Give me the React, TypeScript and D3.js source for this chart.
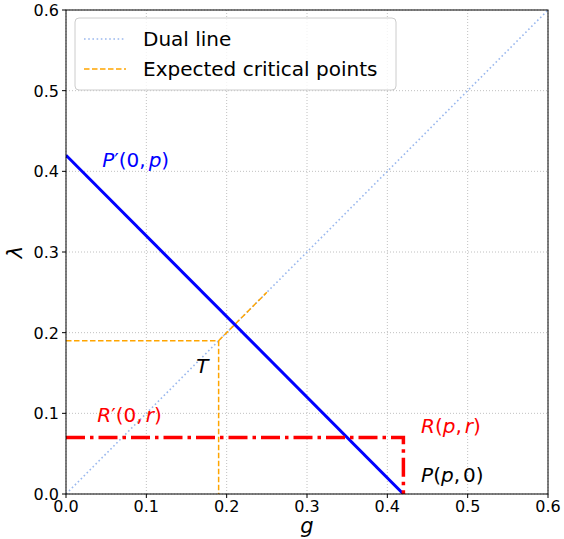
import React from "react";
import * as d3 from "d3";

// Axis ticks
const xTicks = [0, 0.1, 0.2, 0.3, 0.4, 0.5, 0.6];
const yTicks = [0, 0.1, 0.2, 0.3, 0.4, 0.5, 0.6];

// Model values
const p = 0.42;
const r = 0.07;
const t = 0.19;
const tEnd = 0.25;

// Series
const dualLine: [number, number][] = [[0, 0], [0.6, 0.6]];
const pLine: [number, number][] = [[0, p], [p, 0]];
const rLine: [number, number][] = [[0, r], [p, r], [p, 0]];
const tHoriz: [number, number][] = [[0, t], [t, t]];
const tVert: [number, number][] = [[t, t], [t, 0]];
const tDiag: [number, number][] = [[t, t], [tEnd, tEnd]];

const W = 564;
const H = 539;
const M = { left: 66, right: 548, top: 10, bottom: 494 };
const FONT = "DejaVu Sans, sans-serif";

export default function App() {
  const x = d3.scaleLinear().domain([0, 0.6]).range([M.left, M.right]);
  const y = d3.scaleLinear().domain([0, 0.6]).range([M.bottom, M.top]);
  const line = d3.line<[number, number]>().x((d) => x(d[0])).y((d) => y(d[1]));

  const fmt = d3.format(".1f");
  const dash = "5.5,2.5";

  return (
    <svg width={W} height={H} style={{ position: "absolute", left: 0, top: 0 }} fontFamily={FONT}>
      <rect width={W} height={H} fill="white" />
      <defs>
        <clipPath id="plot">
          <rect x={M.left} y={M.top} width={M.right - M.left} height={M.bottom - M.top} />
        </clipPath>
      </defs>
      {/* grid */}
      {xTicks.map((v) => (
        <line key={"gx" + v} x1={x(v)} x2={x(v)} y1={M.top} y2={M.bottom} stroke="#b0b0b0" strokeWidth={0.8} strokeDasharray="1,2" />
      ))}
      {yTicks.map((v) => (
        <line key={"gy" + v} x1={M.left} x2={M.right} y1={y(v)} y2={y(v)} stroke="#b0b0b0" strokeWidth={0.8} strokeDasharray="1,2" />
      ))}

      <g clipPath="url(#plot)">
        <path d={line(dualLine)!} fill="none" stroke="#9ab8ee" strokeWidth={1.6} strokeDasharray="1.6,2.6" />
        <path d={line(tHoriz)!} fill="none" stroke="orange" strokeWidth={1.5} strokeDasharray={dash} />
        <path d={line(tVert)!} fill="none" stroke="orange" strokeWidth={1.5} strokeDasharray={dash} />
        <path d={line(tDiag)!} fill="none" stroke="orange" strokeWidth={1.5} strokeDasharray={dash} />
        <path d={line(pLine)!} fill="none" stroke="#0000ff" strokeWidth={3} />
        <path d={line(rLine)!} fill="none" stroke="#ff0000" strokeWidth={3.5} strokeDasharray="19,5,3.5,5" />
      </g>

      {/* annotations */}
      <text x={x(0.045)} y={y(0.405)} fontSize={20} fill="#0000ff">
        <tspan fontStyle="italic">P</tspan>
        <tspan>′(0,</tspan>
        <tspan dx={3} fontStyle="italic">p</tspan>
        <tspan>)</tspan>
      </text>
      <text x={x(0.162)} y={y(0.15)} fontSize={20} fill="black" fontStyle="italic">T</text>
      <text x={x(0.039)} y={y(0.089)} fontSize={20} fill="#ff0000">
        <tspan fontStyle="italic">R</tspan>
        <tspan>′(0,</tspan>
        <tspan dx={3} fontStyle="italic">r</tspan>
        <tspan>)</tspan>
      </text>
      <text x={x(0.442)} y={y(0.076)} fontSize={20} fill="#ff0000">
        <tspan fontStyle="italic">R</tspan>
        <tspan>(</tspan>
        <tspan fontStyle="italic">p</tspan>
        <tspan>,</tspan>
        <tspan dx={3} fontStyle="italic">r</tspan>
        <tspan>)</tspan>
      </text>
      <text x={x(0.442)} y={y(0.015)} fontSize={20} fill="black">
        <tspan fontStyle="italic">P</tspan>
        <tspan>(</tspan>
        <tspan fontStyle="italic">p</tspan>
        <tspan>,</tspan>
        <tspan dx={3}>0)</tspan>
      </text>

      {/* axes frame */}
      <rect x={M.left} y={M.top} width={M.right - M.left} height={M.bottom - M.top} fill="none" stroke="black" strokeWidth={1} />

      {/* ticks */}
      {xTicks.map((v) => (
        <g key={"tx" + v}>
          <line x1={x(v)} x2={x(v)} y1={M.bottom} y2={M.bottom + 4} stroke="black" />
          <text x={x(v)} y={M.bottom + 18} fontSize={16} textAnchor="middle">{fmt(v)}</text>
        </g>
      ))}
      {yTicks.map((v) => (
        <g key={"ty" + v}>
          <line x1={M.left - 4} x2={M.left} y1={y(v)} y2={y(v)} stroke="black" />
          <text x={M.left - 7} y={y(v) + 6} fontSize={16} textAnchor="end">{fmt(v)}</text>
        </g>
      ))}

      <text x={(M.left + M.right) / 2} y={533} fontSize={21} textAnchor="middle" fontStyle="italic">g</text>
      <text transform={`translate(22, ${(M.top + M.bottom) / 2}) rotate(-90)`} fontSize={21} textAnchor="middle" fontStyle="italic">λ</text>

      {/* legend */}
      <g>
        <rect x={75} y={18} width={321} height={72} rx={4} fill="white" fillOpacity={0.8} stroke="#cccccc" strokeWidth={1} />
        <line x1={84} x2={126} y1={39} y2={39} stroke="#9ab8ee" strokeWidth={1.6} strokeDasharray="1.6,2.6" />
        <text x={143} y={46} fontSize={20}>Dual line</text>
        <line x1={84} x2={126} y1={69} y2={69} stroke="orange" strokeWidth={1.5} strokeDasharray={dash} />
        <text x={143} y={76} fontSize={20}>Expected critical points</text>
      </g>
    </svg>
  );
}
